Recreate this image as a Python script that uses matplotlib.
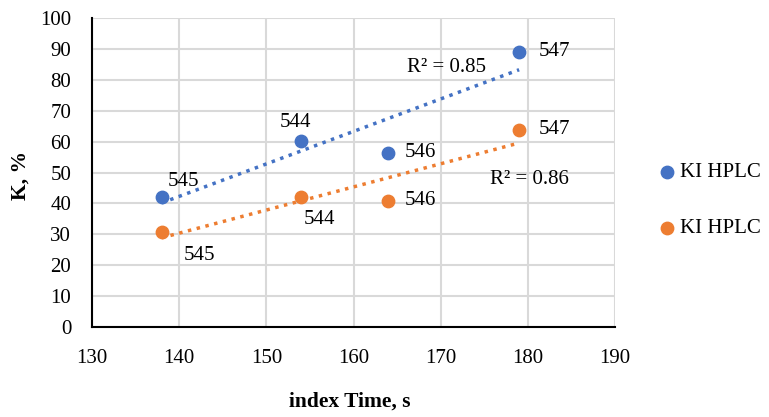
import matplotlib
matplotlib.use("Agg")
import matplotlib.pyplot as plt
import numpy as np

plt.rcParams['font.family'] = ['Liberation Serif', 'DejaVu Serif']

x_vals = [138, 154, 164, 179]
blue_vals = [42.2, 60.3, 56.4, 89.0]
orange_vals = [30.8, 42.2, 40.8, 63.8]
point_labels = ['545', '544', '546', '547']
series_names = ['KI HPLC', 'KI HPLC']
r2_labels = ['R² = 0.85', 'R² = 0.86']

blue = '#4472C4'
orange = '#ED7D31'

fig = plt.figure(figsize=(7.69, 4.17), dpi=100)
ax = fig.add_axes([92/769, 1-327/417, (615-92)/769, (327-18)/417])

ax.set_xlim(130, 190)
ax.set_ylim(0, 100)
ax.set_xticks(np.arange(130, 191, 10))
ax.set_yticks(np.arange(0, 101, 10))
ax.grid(True, color='#d9d9d9', linewidth=1.5)
ax.set_axisbelow(True)
for s in ['top', 'right']:
    ax.spines[s].set_visible(False)
for s in ['left', 'bottom']:
    ax.spines[s].set_color('black')
    ax.spines[s].set_linewidth(1.5)
    ax.spines[s].set_zorder(3)
fs = 15
ax.tick_params(length=0, labelsize=fs)
ax.tick_params(axis='y', pad=15)
ax.tick_params(axis='x', pad=16)

xs = np.array(x_vals, dtype=float)
for vals, col in [(blue_vals, blue), (orange_vals, orange)]:
    m, b = np.polyfit(xs, vals, 1)
    xl = np.array([xs.min(), xs.max()])
    ax.plot(xl, m*xl+b, color=col, linestyle=(0, (1, 1.6)), linewidth=2.5, zorder=2)

ax.scatter(x_vals, blue_vals, s=80, color=blue, zorder=4, label=series_names[0])
ax.scatter(x_vals, orange_vals, s=80, color=orange, zorder=4, label=series_names[1])

blue_offsets = [(4, 4, 'left', 'bottom'), (-4, 6, 'center', 'bottom'), (12, 0, 'left', 'center'), (14, 0, 'left', 'center')]
orange_offsets = [(16, -10, 'left', 'top'), (13, -10, 'center', 'top'), (12, 0, 'left', 'center'), (14, 0, 'left', 'center')]
for xv, yv, lab, (dx, dy, ha, va) in zip(x_vals, blue_vals, point_labels, blue_offsets):
    ax.annotate(lab, (xv, yv), xytext=(dx, dy), textcoords='offset points', ha=ha, va=va, fontsize=fs)
for xv, yv, lab, (dx, dy, ha, va) in zip(x_vals, orange_vals, point_labels, orange_offsets):
    ax.annotate(lab, (xv, yv), xytext=(dx, dy), textcoords='offset points', ha=ha, va=va, fontsize=fs)

ax.text(170.7, 84.1, r2_labels[0], fontsize=fs, ha='center', va='center')
ax.text(180.2, 47.6, r2_labels[1], fontsize=fs, ha='center', va='center')

ax.set_ylabel('K, %', fontsize=15.5, fontweight='bold')
ax.yaxis.label.set_va('center')
ax.yaxis.set_label_coords(-0.136, 0.49)
ax.set_xlabel('index Time, s', fontsize=15.5, fontweight='bold')
ax.xaxis.label.set_va('center')
ax.xaxis.set_label_coords(0.493, -0.243)

leg = ax.legend(loc='center left', bbox_to_anchor=(1.04, 0.41), frameon=False, fontsize=fs,
                handletextpad=0.0, labelspacing=1.75, markerscale=1.0, handlelength=1.2)

fig.savefig('out.png', dpi=100)
